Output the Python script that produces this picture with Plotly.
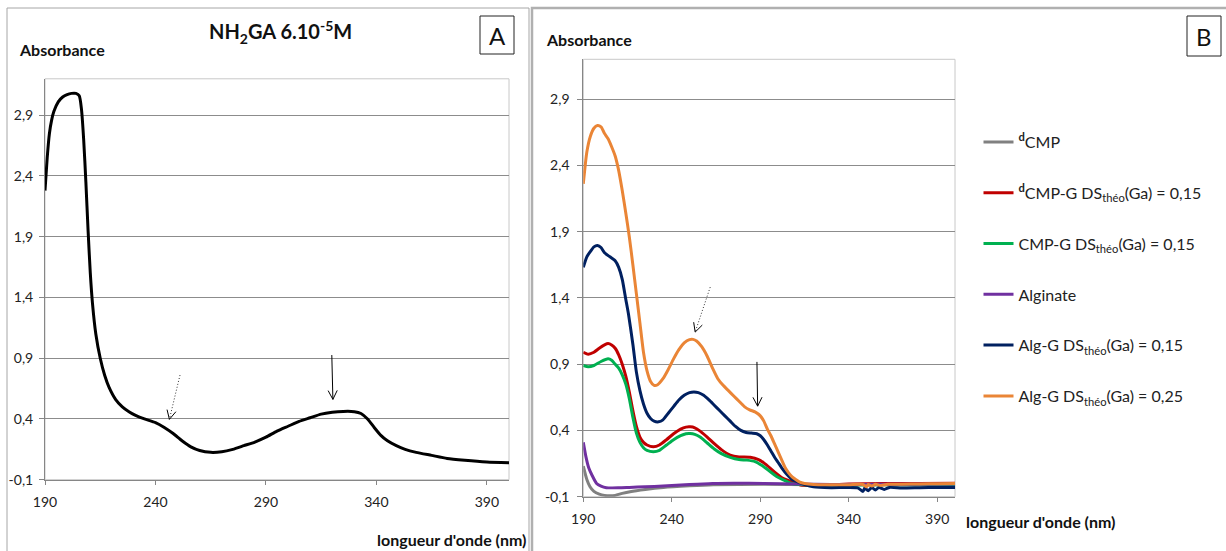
import math
import plotly.graph_objects as go

W, H = 1226, 551

# ---------------- DATA ----------------
# Panel A : NH2GA 6.10-5 M
a_x = [190, 191, 192, 193, 194, 196, 198, 200, 202, 204, 205.5, 206.5, 207.5, 208.5, 209.5,
       210.5, 211.5, 213, 215, 217, 219, 222, 225, 228, 231, 235, 240, 244, 248, 252, 256,
       260, 265, 270, 275, 280, 285, 290, 295, 300, 305, 310, 315, 320, 325, 330, 333, 336,
       339, 342, 345, 349, 353, 358, 365, 372, 380, 390, 400]
a_y = [2.28, 2.55, 2.75, 2.86, 2.93, 3.01, 3.05, 3.07, 3.08, 3.08, 3.06, 2.95, 2.70, 2.35, 1.95,
       1.60, 1.35, 1.10, 0.90, 0.76, 0.66, 0.56, 0.50, 0.46, 0.43, 0.40, 0.37, 0.33, 0.28, 0.22, 0.17,
       0.14, 0.125, 0.13, 0.15, 0.18, 0.21, 0.25, 0.30, 0.34, 0.38, 0.41, 0.44, 0.455, 0.462, 0.46, 0.445, 0.40,
       0.33, 0.265, 0.22, 0.18, 0.15, 0.125, 0.10, 0.075, 0.06, 0.046, 0.04]

# Panel B
dcmp_x = [190, 192, 193.8, 196, 199, 202, 205, 208, 212, 216.4, 225, 235.3, 250, 263.6, 292, 320, 360, 400]
dcmp_y = [0.13, 0.03, -0.025, -0.06, -0.08, -0.09, -0.093, -0.09, -0.075, -0.062, -0.045, -0.03, -0.018,
          -0.01, -0.006, -0.01, -0.01, -0.01]

dcmpg_x = [190, 192.8, 196, 199, 202, 204, 206, 208, 210, 212, 214, 216, 218, 220, 222, 224, 226, 229.6,
           233, 237, 241, 245, 248, 250.4, 253, 256, 260, 264, 268, 273, 278, 284.3, 289, 292, 295.7,
           299, 302, 305, 309, 312.6, 320, 340, 360, 380, 400]
dcmpg_y = [0.99, 0.975, 0.99, 1.02, 1.045, 1.055, 1.045, 1.02, 0.97, 0.90, 0.81, 0.69, 0.55, 0.43, 0.35,
           0.31, 0.29, 0.277, 0.29, 0.33, 0.375, 0.41, 0.425, 0.427, 0.42, 0.395, 0.35, 0.30, 0.255, 0.214,
           0.20, 0.197, 0.18, 0.155, 0.114, 0.075, 0.045, 0.026, 0.005, -0.012, -0.015, -0.005, 0.0, 0.0, 0.002]

cmpg_x = [190, 192.8, 196, 200, 204, 206, 208, 210, 212, 214, 216, 218, 220, 222, 224, 226, 229.6, 233,
          237, 241, 245, 248, 250.4, 253, 256, 260, 264, 268, 273, 278, 282.5, 287, 291, 295.7, 299, 303.2,
          306, 309, 315, 320, 360, 400]
cmpg_y = [0.89, 0.88, 0.89, 0.92, 0.94, 0.93, 0.90, 0.87, 0.82, 0.75, 0.64, 0.50, 0.38, 0.31, 0.27, 0.25,
          0.24, 0.25, 0.29, 0.33, 0.36, 0.375, 0.377, 0.37, 0.35, 0.305, 0.26, 0.225, 0.197, 0.18, 0.176,
          0.165, 0.135, 0.088, 0.055, 0.026, 0.008, -0.004, -0.01, -0.012, -0.01, -0.01]

alg_x = [190, 191.5, 193, 195, 197.5, 200, 203, 210, 216, 225, 235, 250, 263, 275, 292, 311, 330, 360, 400]
alg_y = [0.31, 0.20, 0.12, 0.06, 0.0, -0.02, -0.032, -0.033, -0.03, -0.025, -0.02, -0.008, 0.0, 0.002,
         0.0, -0.004, -0.008, -0.006, -0.005]

algg15_x = [190, 192, 194, 196, 198, 200, 202, 205, 208, 210, 212, 214, 215.5, 218, 220, 222, 224, 226,
            228, 230, 232.5, 235, 238, 241, 244, 247, 250, 252.5, 255, 258, 261, 264, 267, 270, 273, 276,
            279, 282, 285, 288, 290, 292, 294, 296, 298, 300, 302, 304, 306, 308, 311, 315, 320, 330, 345,
            348, 349, 351, 353, 355, 357, 360, 363, 370, 380, 390, 400]
algg15_y = [1.63, 1.71, 1.75, 1.785, 1.795, 1.78, 1.74, 1.71, 1.68, 1.63, 1.54, 1.39, 1.28, 1.05, 0.84,
            0.70, 0.60, 0.53, 0.49, 0.47, 0.465, 0.48, 0.53, 0.58, 0.63, 0.665, 0.685, 0.69, 0.685, 0.665,
            0.63, 0.59, 0.55, 0.51, 0.47, 0.43, 0.40, 0.385, 0.38, 0.375, 0.36, 0.33, 0.29, 0.245, 0.20,
            0.16, 0.12, 0.085, 0.055, 0.03, 0.012, -0.008, -0.025, -0.032, -0.033, -0.06, -0.035, -0.055,
            -0.03, -0.05, -0.03, -0.045, -0.03, -0.035, -0.032, -0.03, -0.03]

algg25_x = [190, 192, 194, 196, 198, 200, 202, 204, 206, 208, 210, 212, 214, 216, 218, 220, 222, 224,
            226, 228, 230, 232, 235, 238, 241, 244, 247, 250, 252, 254, 257, 260, 263, 266, 269, 272, 275,
            278, 281, 284, 287, 290, 292, 294, 296, 298, 300, 302, 304, 306, 308, 310, 312, 315, 320, 330,
            340, 348, 350, 351, 353, 355, 358, 362, 370, 380, 390, 400]
algg25_y = [2.26, 2.50, 2.62, 2.68, 2.70, 2.69, 2.64, 2.60, 2.54, 2.47, 2.36, 2.21, 2.04, 1.86, 1.65,
            1.43, 1.21, 0.99, 0.85, 0.77, 0.74, 0.745, 0.79, 0.86, 0.94, 1.01, 1.06, 1.085, 1.087, 1.075,
            1.03, 0.96, 0.87, 0.79, 0.74, 0.70, 0.66, 0.62, 0.58, 0.555, 0.54, 0.51, 0.47, 0.41, 0.36,
            0.30, 0.24, 0.18, 0.12, 0.08, 0.05, 0.03, 0.012, 0.0, -0.008, -0.01, -0.01, -0.008, -0.025,
            -0.008, -0.02, -0.006, -0.015, -0.006, -0.006, -0.004, -0.002, 0.0]

series_names = [
    "<b><sup>d</sup></b>CMP",
    "<b><sup>d</sup></b>CMP-G DS<sub>théo</sub>(Ga) = 0,15",
    "CMP-G DS<sub>théo</sub>(Ga) = 0,15",
    "Alginate",
    "Alg-G DS<sub>théo</sub>(Ga) = 0,15",
    "Alg-G DS<sub>théo</sub>(Ga) = 0,25",
]
series_colors = ["#808080", "#c00000", "#00b050", "#7030a0", "#002060", "#ea8536"]
series_x = [dcmp_x, dcmpg_x, cmpg_x, alg_x, algg15_x, algg25_x]
series_y = [dcmp_y, dcmpg_y, cmpg_y, alg_y, algg15_y, algg25_y]

x_ticks = [190, 240, 290, 340, 390]
x_ticktext = ["190", "240", "290", "340", "390"]
y_ticks = [-0.1, 0.4, 0.9, 1.4, 1.9, 2.4, 2.9]
y_ticktext = ["-0,1", "0,4", "0,9", "1,4", "1,9", "2,4", "2,9"]
X_RANGE = [190, 400]
Y_RANGE = [-0.1, 3.2]

# arrows: (axis suffix, tail x, tail y, head x, head y, dotted)
arrows = [
    ("", 251.1, 0.761, 246.3, 0.397, True),
    ("", 319.8, 0.926, 320.3, 0.561, False),
    ("2", 261.7, 1.481, 253.2, 1.142, True),
    ("2", 288.1, 0.917, 288.5, 0.583, False),
]

# ---------------- LAYOUT GEOMETRY (pixels) ----------------
A_L, A_R, A_T, A_B = 45, 509, 78.8, 479.7
B_L, B_R, B_T, B_B = 583.3, 955, 59.3, 496.7

def px(x):
    return x / W

def py(y):
    return (H - y) / H

FONT = "Lato, 'Liberation Sans', Arial, sans-serif"

fig = go.Figure()

fig.add_trace(go.Scatter(x=a_x, y=a_y, mode="lines", line=dict(color="black", width=3, shape="spline", smoothing=0.6),
                         showlegend=False, xaxis="x", yaxis="y", hoverinfo="skip"))

for i, (nm, col, xs, ys) in enumerate(zip(series_names, series_colors, series_x, series_y)):
    fig.add_trace(go.Scatter(x=xs, y=ys, mode="lines", name=nm, legendgroup=f"g{i}",
                             line=dict(color=col, width=3, shape="spline", smoothing=0.6),
                             xaxis="x2", yaxis="y2"))

TICKFONT = dict(family=FONT, size=14, color="#222")
axis_common = dict(range=X_RANGE, tickvals=x_ticks, ticktext=x_ticktext, ticks="outside", ticklen=4,
                   tickcolor="#868686", showline=True, linecolor="#868686", linewidth=1, showgrid=False,
                   zeroline=False, tickfont=TICKFONT, fixedrange=True, automargin=False)
yaxis_common = dict(range=Y_RANGE, tickvals=y_ticks, ticktext=y_ticktext, ticks="outside", ticklen=5,
                    tickcolor="#868686", showline=True, linecolor="#868686", linewidth=1, showgrid=True,
                    gridcolor="#8c8c8c", gridwidth=1, zeroline=False,
                    tickfont=TICKFONT, fixedrange=True, automargin=False)

fig.update_layout(
    width=W, height=H, autosize=False,
    margin=dict(l=0, r=0, t=0, b=0, pad=0),
    paper_bgcolor="white", plot_bgcolor="white",
    xaxis=dict(domain=[px(A_L), px(A_R)], anchor="y", ticklabelstandoff=5, **axis_common),
    yaxis=dict(domain=[py(A_B), py(A_T)], anchor="x", ticklabelstandoff=3, **yaxis_common),
    xaxis2=dict(domain=[px(B_L), px(B_R)], anchor="y2", ticklabelstandoff=5, **axis_common),
    yaxis2=dict(domain=[py(B_B), py(B_T)], anchor="x2", ticklabelstandoff=5, **yaxis_common),
    legend=dict(x=px(978.5), y=py(125), xanchor="left", yanchor="top", tracegroupgap=27,
                font=dict(family=FONT, size=16, color="#222"), itemwidth=30, bgcolor="rgba(0,0,0,0)",
                traceorder="grouped"),
    showlegend=True,
)

shapes = []
# plot area outlines (light grey)
for sx, sy in (("x", "y"), ("x2", "y2")):
    shapes.append(dict(type="rect", xref=f"{sx} domain", yref=f"{sy} domain", x0=0, x1=1, y0=0, y1=1,
                       line=dict(color="#c8c8c8", width=1), layer="below"))
# panel frames
shapes.append(dict(type="path", xref="paper", yref="paper",
                   path=f"M{px(7)},{py(560)} L{px(7)},{py(8)} L{px(529)},{py(8)} L{px(529)},{py(560)}",
                   line=dict(color="#a6a6a6", width=1)))
shapes.append(dict(type="path", xref="paper", yref="paper",
                   path=f"M{px(532)},{py(560)} L{px(532)},{py(8)} L{px(1230)},{py(8)}",
                   line=dict(color="#b0b0b0", width=2.5)))
# label boxes
shapes.append(dict(type="rect", xref="paper", yref="paper", x0=px(480), x1=px(514), y0=py(54), y1=py(16),
                   line=dict(color="#222", width=1)))
shapes.append(dict(type="rect", xref="paper", yref="paper", x0=px(1187), x1=px(1221), y0=py(56), y1=py(16),
                   line=dict(color="#222", width=1)))

# arrows
scales = {"": ((A_R - A_L) / (X_RANGE[1] - X_RANGE[0]), (A_B - A_T) / (Y_RANGE[1] - Y_RANGE[0])),
          "2": ((B_R - B_L) / (X_RANGE[1] - X_RANGE[0]), (B_B - B_T) / (Y_RANGE[1] - Y_RANGE[0]))}
for ax, xt, yt, xh, yh, dotted in arrows:
    sxp, syp = scales[ax]
    shapes.append(dict(type="line", xref=f"x{ax}", yref=f"y{ax}", x0=xt, y0=yt, x1=xh, y1=yh,
                       line=dict(color="#333" if dotted else "black", width=1,
                                 dash="1px,2px" if dotted else "solid")))
    dx, dy = (xt - xh) * sxp, (yt - yh) * syp
    n = math.hypot(dx, dy)
    ux, uy = dx / n, dy / n
    L, ang = 10, math.radians(27)
    pts = []
    for s in (1, -1):
        c, si = math.cos(s * ang), math.sin(s * ang)
        pts.append((L * (ux * c - uy * si), L * (ux * si + uy * c)))
    shapes.append(dict(type="path", xref=f"x{ax}", yref=f"y{ax}", xsizemode="pixel", ysizemode="pixel",
                       xanchor=xh, yanchor=yh,
                       path=f"M{pts[0][0]:.2f},{pts[0][1]:.2f} L0,0 L{pts[1][0]:.2f},{pts[1][1]:.2f}",
                       line=dict(color="black", width=1)))

fig.update_layout(shapes=shapes)

ann = []
def text(x, y, s, size=14, bold=True, xanchor="left", color="#111"):
    ann.append(dict(xref="paper", yref="paper", x=px(x), y=py(y), text=f"<b>{s}</b>" if bold else s,
                    showarrow=False, xanchor=xanchor, yanchor="middle",
                    font=dict(family=FONT, size=size, color=color)))

text(17, 49.5, "Absorbance", 16)
text(544, 39, "Absorbance", 16)
text(280, 32, "NH<sub>2</sub>GA 6.10<sup>-5</sup>M", 20, xanchor="center")
text(528, 539, "longueur d'onde (nm)", 16, xanchor="right")
text(964, 521, "longueur d'onde (nm)", 16)
text(497, 35, "A", 24, bold=False, xanchor="center")
text(1204, 36, "B", 24, bold=False, xanchor="center")
fig.update_layout(annotations=ann)

fig.write_html("out.html", config={"displayModeBar": False},
               post_script="document.body.style.margin='0';document.body.style.overflow='hidden';")
